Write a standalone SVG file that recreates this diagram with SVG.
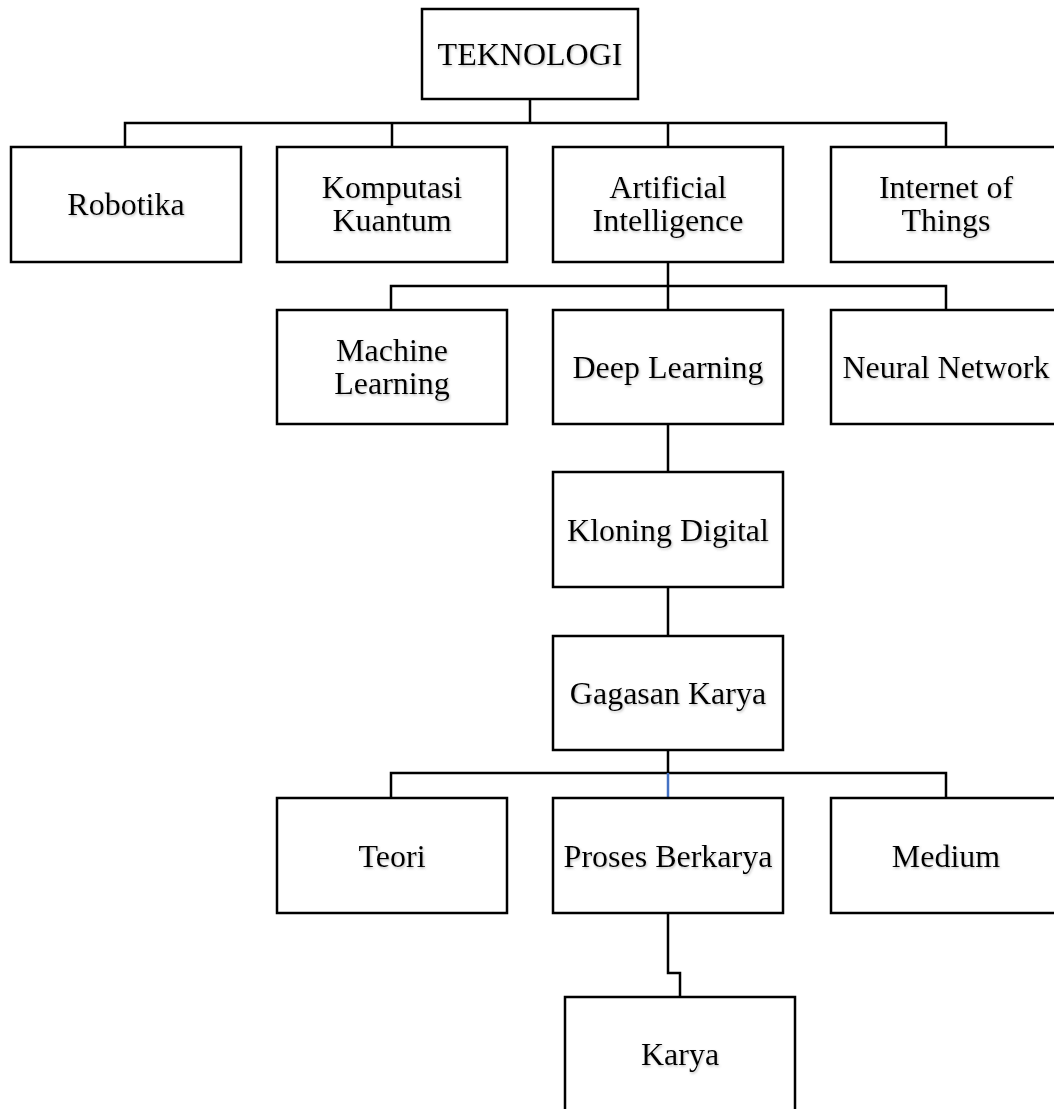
<svg xmlns="http://www.w3.org/2000/svg" width="1054" height="1109" viewBox="0 0 1054 1109">
<style>
.box{fill:#fff;stroke:#000;stroke-width:2.5}
.lbl{font-family:"Liberation Serif","Times New Roman",serif;font-size:32px;fill:#000;text-anchor:middle;filter:url(#sh)}
.con{fill:none;stroke:#000;stroke-width:2.5;stroke-linecap:square}
</style>
<defs>
<filter id="sh" x="-10%" y="-30%" width="120%" height="160%">
<feDropShadow dx="1" dy="1.5" stdDeviation="0.8" flood-color="#777" flood-opacity="0.45"/>
</filter>
</defs>
<rect width="1054" height="1109" fill="#fff"/>
<g id="connectors">
<path class="con" d="M530 99V123M125 147V123H946V147M392 123V147M668 123V147"/>
<path class="con" d="M668 262V310M391 310V286H946V310"/>
<path class="con" d="M668 424V472M668 587V636"/>
<path class="con" d="M668 750V773M391 798V773H946V798"/>
<path d="M668 773V798" fill="none" stroke="#4472C4" stroke-width="2.5"/>
<path class="con" d="M668 913V973H680V997"/>
</g>
<g id="teknologi"><rect class="box" x="422" y="9" width="216" height="90"/><text class="lbl" x="530" y="65">TEKNOLOGI</text></g>
<g id="robotika"><rect class="box" x="11" y="147" width="230" height="115"/><text class="lbl" x="126" y="215">Robotika</text></g>
<g id="komputasi"><rect class="box" x="277" y="147" width="230" height="115"/><text class="lbl" x="392" y="198">Komputasi</text><text class="lbl" x="392" y="231">Kuantum</text></g>
<g id="ai"><rect class="box" x="553" y="147" width="230" height="115"/><text class="lbl" x="668" y="198">Artificial</text><text class="lbl" x="668" y="231">Intelligence</text></g>
<g id="iot"><rect class="box" x="831" y="147" width="230" height="115"/><text class="lbl" x="946" y="198">Internet of</text><text class="lbl" x="946" y="231">Things</text></g>
<g id="ml"><rect class="box" x="277" y="310" width="230" height="114"/><text class="lbl" x="392" y="361">Machine</text><text class="lbl" x="392" y="394">Learning</text></g>
<g id="dl"><rect class="box" x="553" y="310" width="230" height="114"/><text class="lbl" x="668" y="378">Deep Learning</text></g>
<g id="nn"><rect class="box" x="831" y="310" width="230" height="114"/><text class="lbl" x="946" y="378">Neural Network</text></g>
<g id="kloning"><rect class="box" x="553" y="472" width="230" height="115"/><text class="lbl" x="668" y="541">Kloning Digital</text></g>
<g id="gagasan"><rect class="box" x="553" y="636" width="230" height="114"/><text class="lbl" x="668" y="704">Gagasan Karya</text></g>
<g id="teori"><rect class="box" x="277" y="798" width="230" height="115"/><text class="lbl" x="392" y="867">Teori</text></g>
<g id="proses"><rect class="box" x="553" y="798" width="230" height="115"/><text class="lbl" x="668" y="867">Proses Berkarya</text></g>
<g id="medium"><rect class="box" x="831" y="798" width="230" height="115"/><text class="lbl" x="946" y="867">Medium</text></g>
<g id="karya"><rect class="box" x="565" y="997" width="230" height="116"/><text class="lbl" x="680" y="1065">Karya</text></g>
</svg>
